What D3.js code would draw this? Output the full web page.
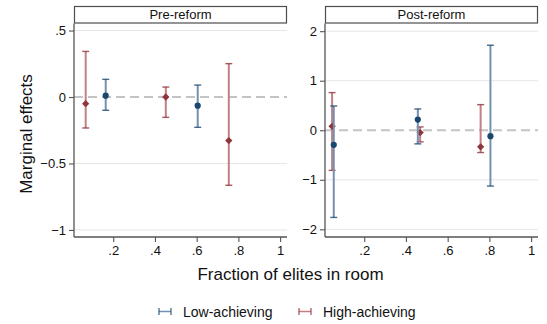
<!DOCTYPE html>
<html>
<head>
<meta charset="utf-8">
<script src="https://cdn.jsdelivr.net/npm/d3@7"></script>
<style>
  body { margin: 0; background: #fff; }
  svg { display: block; font-family: "Liberation Sans", Arial, Helvetica, sans-serif; }
</style>
</head>
<body>
<svg id="chart" width="547" height="324"></svg>
<script>
// Panels and their y ticks
const panels = ["Pre-reform", "Post-reform"];
const yTicksPre = [0.5, 0, -0.5, -1];
const yTicksPost = [2, 1, 0, -1, -2];
const xTicks = [0.2, 0.4, 0.6, 0.8, 1];
const seriesNames = ["Low-achieving", "High-achieving"];

// Pre-reform estimates: fraction, point estimate, lower CI, upper CI
const preLowX = [0.164, 0.605];
const preLowEst = [0.01, -0.065];
const preLowLo = [-0.10, -0.228];
const preLowHi = [0.133, 0.09];

const preHighX = [0.068, 0.452, 0.754];
const preHighEst = [-0.05, 0.0, -0.328];
const preHighLo = [-0.233, -0.153, -0.664];
const preHighHi = [0.343, 0.075, 0.251];

// Post-reform estimates
const postLowX = [0.054, 0.457, 0.805];
const postLowEst = [-0.295, 0.215, -0.12];
const postLowLo = [-1.76, -0.275, -1.127];
const postLowHi = [0.49, 0.43, 1.716];

const postHighX = [0.046, 0.468, 0.758];
const postHighEst = [0.08, -0.047, -0.335];
const postHighLo = [-0.81, -0.235, -0.45];
const postHighHi = [0.76, 0.067, 0.517];

const colors = { low: "#1a476f", high: "#90353b" };
const ciColors = { low: "#7391b0", high: "#c27f84" };

function rows(xs, est, lo, hi) {
  return xs.map((x, i) => ({ x, est: est[i], lo: lo[i], hi: hi[i] }));
}

const svg = d3.select("#chart");

const panelDefs = [
  { title: panels[0], left: 74, yDomain: [-1.053, 0.553], yTicks: yTicksPre,
    low: rows(preLowX, preLowEst, preLowLo, preLowHi),
    high: rows(preHighX, preHighEst, preHighLo, preHighHi) },
  { title: panels[1], left: 325, yDomain: [-2.155, 2.155], yTicks: yTicksPost,
    low: rows(postLowX, postLowEst, postLowLo, postLowHi),
    high: rows(postHighX, postHighEst, postHighLo, postHighHi) }
];

const panelW = 213, plotTop = 23.5, plotBottom = 237, headerTop = 6;

const fmt = v => v === 0 ? "0" : d3.format("")(v).replace(/^(-?)0\./, "$1.");

panelDefs.forEach(p => {
  const x = d3.scaleLinear().domain([0.012, 1.033]).range([p.left, p.left + panelW]);
  const y = d3.scaleLinear().domain(p.yDomain).range([plotBottom, plotTop]);
  const g = svg.append("g");

  // header strip
  g.append("rect")
    .attr("x", p.left + 0.5).attr("y", headerTop + 0.5)
    .attr("width", panelW - 1).attr("height", plotTop - headerTop - 1)
    .attr("fill", "#fff").attr("stroke", "#4d4d4d").attr("stroke-width", 1.2);
  g.append("text")
    .attr("x", p.left + panelW / 2).attr("y", plotTop - 5)
    .attr("text-anchor", "middle").attr("font-size", 13).attr("fill", "#111")
    .text(p.title);

  // gridlines
  g.selectAll(".grid").data(p.yTicks.filter(t => t !== 0)).join("line")
    .attr("x1", p.left).attr("x2", p.left + panelW)
    .attr("y1", d => y(d)).attr("y2", d => y(d))
    .attr("stroke", "#e6e6e6").attr("stroke-width", 1);

  // zero reference line
  g.append("line")
    .attr("x1", p.left).attr("x2", p.left + panelW)
    .attr("y1", y(0)).attr("y2", y(0))
    .attr("stroke", "#c4c4c4").attr("stroke-width", 2)
    .attr("stroke-dasharray", "9,5");

  // axes
  const yAxis = d3.axisLeft(y).tickValues(p.yTicks).tickSize(5).tickPadding(3).tickFormat(fmt);
  const ya = g.append("g").attr("transform", `translate(${p.left},0)`).call(yAxis);
  const xAxis = d3.axisBottom(x).tickValues(xTicks).tickSize(5).tickPadding(4).tickFormat(fmt);
  const xa = g.append("g").attr("transform", `translate(0,${plotBottom})`).call(xAxis);
  [ya, xa].forEach(a => {
    a.select(".domain").attr("stroke", "#555").attr("stroke-width", 1.3);
    a.selectAll(".tick line").attr("stroke", "#555").attr("stroke-width", 1.1);
    a.selectAll(".tick text").attr("font-size", 13).attr("fill", "#111")
      .attr("font-family", "Liberation Sans, Arial, sans-serif");
  });
  ya.select(".domain").attr("d", `M0,${plotTop}V${plotBottom}`);
  xa.select(".domain").attr("d", `M${p.left},0H${p.left + panelW}`);

  // confidence intervals and points
  function drawSeries(data, key, shape) {
    const s = g.append("g");
    s.selectAll(".ci").data(data).join("line")
      .attr("x1", d => x(d.x)).attr("x2", d => x(d.x))
      .attr("y1", d => y(d.lo)).attr("y2", d => y(d.hi))
      .attr("stroke", ciColors[key]).attr("stroke-width", 2);
    s.selectAll(".cap").data(data.flatMap(d => [{ x: d.x, v: d.lo }, { x: d.x, v: d.hi }])).join("line")
      .attr("x1", d => x(d.x) - 3.5).attr("x2", d => x(d.x) + 3.5)
      .attr("y1", d => y(d.v)).attr("y2", d => y(d.v))
      .attr("stroke", colors[key]).attr("stroke-opacity", 0.8).attr("stroke-width", 1.4);
    s.selectAll(".pt").data(data).join("path")
      .attr("transform", d => `translate(${x(d.x)},${y(d.est)})`)
      .attr("d", d3.symbol().type(shape).size(shape === d3.symbolDiamond2 ? 34 : 30))
      .attr("fill", colors[key]);
  }
  drawSeries(p.high, "high", d3.symbolDiamond2);
  drawSeries(p.low, "low", d3.symbolCircle);
});

// axis titles
svg.append("text")
  .attr("transform", "translate(32,134) rotate(-90)")
  .attr("text-anchor", "middle").attr("font-size", 17).attr("fill", "#111")
  .text("Marginal effects");
svg.append("text")
  .attr("x", 290.5).attr("y", 280)
  .attr("text-anchor", "middle").attr("font-size", 17).attr("fill", "#111")
  .text("Fraction of elites in room");

// legend
const legend = svg.append("g");
const legendItems = [
  { name: seriesNames[0], key: "low", x: 159 },
  { name: seriesNames[1], key: "high", x: 299 }
];
legendItems.forEach(it => {
  const yL = 311.5;
  legend.append("line").attr("x1", it.x).attr("x2", it.x + 12).attr("y1", yL).attr("y2", yL)
    .attr("stroke", ciColors[it.key]).attr("stroke-width", 1.5);
  [it.x, it.x + 12].forEach(cx => legend.append("line")
    .attr("x1", cx).attr("x2", cx).attr("y1", yL - 3.5).attr("y2", yL + 3.5)
    .attr("stroke", colors[it.key]).attr("stroke-opacity", 0.8).attr("stroke-width", 1.3));
  legend.append("text").attr("x", it.x + 24).attr("y", yL + 5)
    .attr("font-size", 14).attr("fill", "#111").text(it.name);
});
</script>
</body>
</html>
